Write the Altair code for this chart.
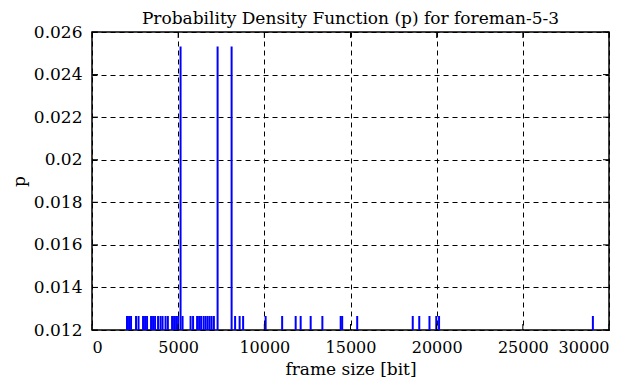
import altair as alt
import pandas as pd

# frame sizes [bit]
frame_sizes = [2030, 2149, 2265, 2555, 2700, 2962, 3078, 3194, 3426, 3542, 3659, 3833,
               3978, 4094, 4268, 4402, 4646, 4762, 4878, 4994, 5139, 5255, 5720, 5865,
               6098, 6214, 6330, 6475, 6591, 6707, 6823, 6940, 7073, 7288, 8101, 8304,
               8566, 8769, 10075, 11034, 11818, 12108, 12689, 13368, 14431, 14518,
               15389, 18612, 18990, 19582, 19977, 20139, 29065]
double_sizes = [5139, 7288, 8101]
p_single = 0.012658
p_double = 0.025316
probs = [p_double if f in double_sizes else p_single for f in frame_sizes]

x_ticks = [0, 5000, 10000, 15000, 20000, 25000, 30000]
y_ticks = [0.012, 0.014, 0.016, 0.018, 0.02, 0.022, 0.024, 0.026]

df = pd.DataFrame({"size": frame_sizes, "p": probs, "base": [0.012] * len(frame_sizes)})
xt = pd.DataFrame({"t": x_ticks})
yt = pd.DataFrame({"t": y_ticks})

W, H = 517, 298
SERIF = "DejaVu Serif"

xscale = alt.Scale(domain=[0, 30000], nice=False, zero=False)
yscale = alt.Scale(domain=[0.012, 0.026], nice=False, zero=False)

bars = alt.Chart(df).mark_rule(color="#0000ff", strokeWidth=2, clip=True).encode(
    x=alt.X("size:Q", scale=xscale, title="frame size [bit]",
            axis=alt.Axis(values=x_ticks, format="d", grid=True, ticks=False,
                          domain=False, labelPadding=9, titlePadding=6,
                          labelFont=SERIF, labelFontSize=16, titleFont=SERIF)),
    y=alt.Y("p:Q", scale=yscale, title="p",
            axis=alt.Axis(values=y_ticks, format="~g", grid=True, ticks=False,
                          domain=False, labelPadding=10,
                          labelFont=SERIF, labelFontSize=17, titleFont=SERIF,
                          titleX=-73, titleY=H / 2, titleAlign="center",
                          titleBaseline="middle", titleAngle=270)),
    y2="base:Q",
)

yt_left = alt.Chart(yt).mark_rule(color="black", strokeWidth=1).encode(
    y=alt.Y("t:Q", scale=yscale), x=alt.value(0), x2=alt.value(6))
yt_right = alt.Chart(yt).mark_rule(color="black", strokeWidth=1).encode(
    y=alt.Y("t:Q", scale=yscale), x=alt.value(W - 6), x2=alt.value(W))
xt_bot = alt.Chart(xt).mark_rule(color="black", strokeWidth=1).encode(
    x=alt.X("t:Q", scale=xscale), y=alt.value(H), y2=alt.value(H - 6))
xt_top = alt.Chart(xt).mark_rule(color="black", strokeWidth=1).encode(
    x=alt.X("t:Q", scale=xscale), y=alt.value(0), y2=alt.value(6))

chart = alt.layer(bars, yt_left, yt_right, xt_bot, xt_top).properties(
    width=W, height=H,
    title=alt.TitleParams("Probability Density Function (p) for foreman-5-3",
                          font=SERIF, fontSize=17, fontWeight="normal",
                          color="black", offset=-5, anchor="middle"),
    autosize=alt.AutoSizeParams(type="none"),
    padding={"left": 84, "top": 24, "right": 10, "bottom": 57},
).configure_view(
    stroke="black", strokeWidth=1.5
).configure_axis(
    gridColor="black", gridDash=[5, 4], gridOpacity=1, gridWidth=1,
    labelColor="black",
    titleFontSize=17, titleFontWeight="normal", titleColor="black",
).configure_title(
    font=SERIF
)

chart.save("out.html", embed_options={"renderer": "svg", "actions": False})
